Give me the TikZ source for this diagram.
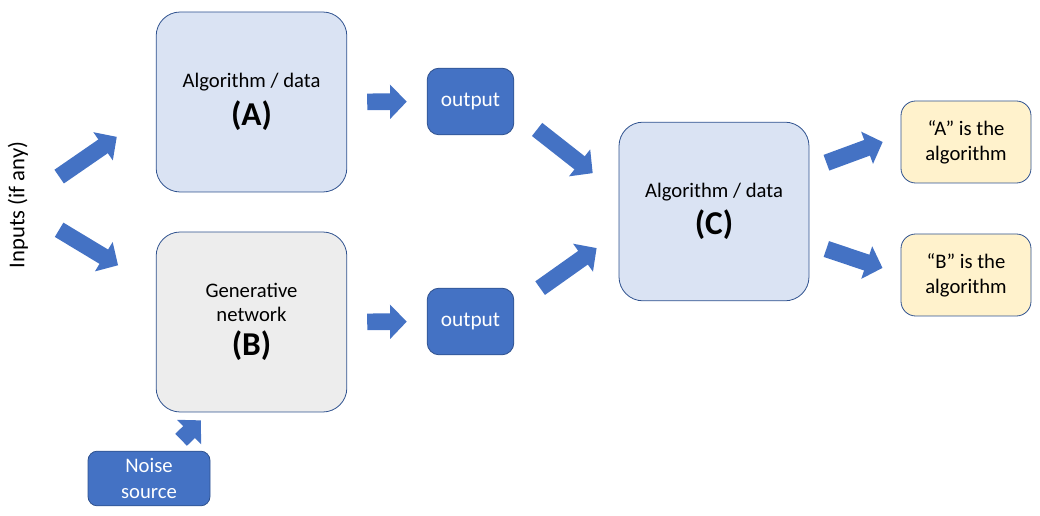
\documentclass[tikz,border=0pt]{standalone}
\usepackage{fontspec}
\setmainfont{Carlito}
\usetikzlibrary{arrows.meta, calc}
\definecolor{accent}{HTML}{4472C4}
\definecolor{edge}{HTML}{2F528F}
\definecolor{paleblue}{HTML}{DAE3F3}
\definecolor{palegrey}{HTML}{EDEDED}
\definecolor{paleorange}{HTML}{FFF2CC}

\begin{document}
\begin{tikzpicture}[
  x=0.75pt, y=-0.75pt,
  bigbox/.style={rectangle, draw=edge, fill=paleblue, line width=0.6pt, minimum width=143pt, minimum height=135pt, inner sep=0pt, rounded corners=18pt, align=center, font=\fontsize{15.5}{18}\selectfont},
  outbox/.style={rectangle, draw=edge, fill=accent, line width=0.6pt, minimum width=65pt, minimum height=50pt, inner sep=0pt, rounded corners=9pt, align=center, text=white, font=\fontsize{16}{19}\selectfont},
  resultbox/.style={rectangle, draw=edge, fill=paleorange, line width=0.6pt, minimum width=97.5pt, minimum height=61.5pt, inner sep=0pt, rounded corners=11pt, align=center, font=\fontsize{15.5}{19}\selectfont},
  blockarrow/.style={draw=accent, line width=12.5pt, -{Triangle[length=12.5pt, width=25pt]}},
  boxtag/.style={font=\fontsize{25}{28}\selectfont\bfseries}
]
\useasboundingbox (0,0) rectangle (1040,516);

% Boxes
\node (inputs) [rotate=90, font=\fontsize{17}{20}\selectfont] at (18,205) {Inputs (if any)};
\node (A) [bigbox] at (251.5,102) {Algorithm / data\\[6pt]{\fontsize{25}{28}\selectfont\bfseries (A)}};
\node (B) [bigbox, fill=palegrey] at (251.5,322) {Generative\\network\\[6pt]{\fontsize{25}{28}\selectfont\bfseries (B)}};
\node (out1) [outbox] at (470.5,101.5) {output};
\node (out2) [outbox] at (470.5,321.5) {output};
\node (C) [bigbox, minimum width=142.5pt, minimum height=134pt] at (714,211.5) {Algorithm / data\\[6pt]{\fontsize{25}{28}\selectfont\bfseries (C)}};
\node (resA) [resultbox] at (966,142) {“A” is the\\algorithm};
\node (resB) [resultbox] at (966,275) {“B” is the\\algorithm};
\node (noise) [outbox, minimum width=91.5pt, minimum height=41pt, rounded corners=7pt, font=\fontsize{15.5}{19}\selectfont] at (149,478.5) {Noise\\source};

% Block arrows
\draw [blockarrow, shorten <=37.5pt, shorten >=35.5pt] (inputs.center) -- ($(A.west)+(0,8)$);
\draw [blockarrow, shorten <=36pt, shorten >=33pt] (inputs.center) -- ($(B.west)+(0,-34)$);
\draw [blockarrow, shorten <=15pt, shorten >=15pt] (A.east) -- (out1.west);
\draw [blockarrow, shorten <=15pt, shorten >=15pt] (B.east) -- (out2.west);
\draw [blockarrow, shorten <=21.8pt, shorten >=24.7pt] ($(out1.east)+(0,10)$) -- ($(C.west)+(0,-18)$);
\draw [blockarrow, shorten <=23.8pt, shorten >=20.2pt] ($(out2.east)+(0,-15)$) -- ($(C.west)+(0,21)$);
\draw [blockarrow, shorten <=13.6pt, shorten >=14.3pt] ($(C.east)+(0,-42.5)$) -- ($(resA.west)+(0,-6.6)$);
\draw [blockarrow, shorten <=13.4pt, shorten >=14.3pt] ($(C.east)+(0,31.8)$) -- ($(resB.west)+(0,-1)$);
\draw [blockarrow, shorten <=11.7pt, shorten >=8.5pt] ($(noise.north)+(21,0)$) -- ($(B.south)+(-42.5,0)$);
\end{tikzpicture}
\end{document}
